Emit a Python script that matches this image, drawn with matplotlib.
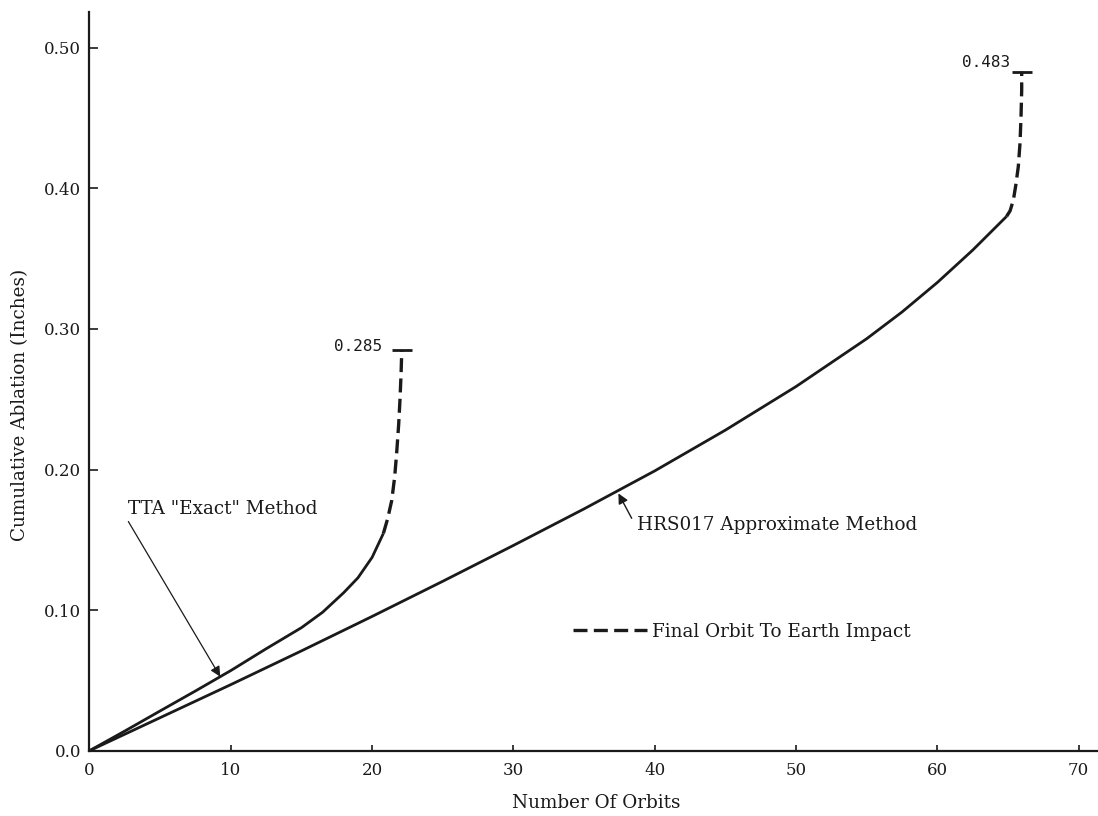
import matplotlib
matplotlib.use("Agg")
import matplotlib.pyplot as plt
from matplotlib.lines import Line2D

# ---- data ----
tta_x = [0, 2.5, 5, 7.5, 10, 12.5, 15, 16.5, 18, 19, 20, 20.8]
tta_y = [0, 0.0140, 0.0283, 0.0425, 0.0570, 0.0725, 0.0875, 0.0985, 0.1125,
         0.1230, 0.1375, 0.1546]
tta_final_x = [20.8, 21.1, 21.39, 21.6, 21.74, 21.88, 21.97, 22.05, 22.1]
tta_final_y = [0.1546, 0.165, 0.178, 0.195, 0.212, 0.232, 0.249, 0.268, 0.285]

hrs_x = [0, 5, 10, 15, 20, 25, 30, 35, 40, 45, 50, 55, 57.5, 60, 62.5, 64.9]
hrs_y = [0, 0.0235, 0.047, 0.071, 0.0955, 0.1205, 0.146, 0.172, 0.199, 0.228,
         0.259, 0.293, 0.312, 0.333, 0.356, 0.380]
hrs_final_x = [64.9, 65.15, 65.38, 65.55, 65.73, 65.85, 65.92, 65.97, 65.97]
hrs_final_y = [0.380, 0.384, 0.3916, 0.402, 0.4154, 0.432, 0.450, 0.470, 0.483]

x_ticks = [0, 10, 20, 30, 40, 50, 60, 70]
y_ticks = [0.0, 0.10, 0.20, 0.30, 0.40, 0.50]
y_tick_labels = ["0.0", "0.10", "0.20", "0.30", "0.40", "0.50"]

tta_label = 'TTA "Exact" Method'
hrs_label = "HRS017 Approximate Method"
final_label = "Final Orbit To Earth Impact"
x_title = "Number Of Orbits"
y_title = "Cumulative Ablation (Inches)"

# ---- figure ----
SERIF = "DejaVu Serif"
MONO = "DejaVu Sans Mono"
FS = 13.2
fig = plt.figure(figsize=(10.98, 8.16), dpi=100)
fig.patch.set_facecolor("white")
ax = fig.add_axes([0.0815, 0.08, 0.9185, 0.905])
ax.set_xlim(0, 71.37)
ax.set_ylim(0, 0.5252)

ink = "#1a1a1a"
solid_lw = 2.0
dash_lw = 2.4
dash_pat = (4.2, 1.9)

ax.plot(tta_x, tta_y, color=ink, lw=solid_lw, solid_capstyle="butt", solid_joinstyle="round")
ax.plot(hrs_x, hrs_y, color=ink, lw=solid_lw, solid_capstyle="butt", solid_joinstyle="round")
ax.plot(tta_final_x, tta_final_y, color=ink, lw=dash_lw, dashes=dash_pat)
ax.plot(hrs_final_x, hrs_final_y, color=ink, lw=dash_lw, dashes=dash_pat)

# caps at the impact values
for fx, fy, off in [(tta_final_x, tta_final_y, (-20, 3)), (hrs_final_x, hrs_final_y, (-12, 9))]:
    ax.plot([fx[-1]], [fy[-1]], marker="_", ms=14.5, mew=2.0, color=ink)
    ax.annotate(f"{fy[-1]:.3f}", xy=(fx[-1], fy[-1]), xytext=off,
                textcoords="offset pixels", ha="right", va="center",
                fontsize=11.5, family=MONO, color=ink)

# spines & ticks
for s in ["top", "right"]:
    ax.spines[s].set_visible(False)
for s in ["left", "bottom"]:
    ax.spines[s].set_linewidth(1.6)
    ax.spines[s].set_color(ink)
ax.set_xticks(x_ticks)
ax.set_xticklabels([str(t) for t in x_ticks], family=SERIF, fontsize=12)
ax.set_yticks(y_ticks)
ax.set_yticklabels(y_tick_labels, family=SERIF, fontsize=12)
ax.tick_params(axis="x", direction="in", length=4.5, width=1.2, pad=8, colors=ink)
ax.tick_params(axis="y", direction="in", length=6.5, width=1.2, pad=6, colors=ink)

# annotations
ax.text(2.75, 0.1716, tta_label, family=SERIF, fontsize=FS, ha="left", va="center", color=ink)
ax.annotate("", xy=(9.25, 0.0527), xytext=(2.75, 0.163),
            arrowprops=dict(arrowstyle="-|>", color=ink, lw=0.9,
                            mutation_scale=15, shrinkA=0, shrinkB=0))
ax.text(38.73, 0.1605, hrs_label, family=SERIF, fontsize=FS, ha="left", va="center", color=ink)
ax.annotate("", xy=(37.43, 0.183), xytext=(38.37, 0.1653),
            arrowprops=dict(arrowstyle="-|>", color=ink, lw=1.0,
                            mutation_scale=15, shrinkA=0, shrinkB=0))

handle = Line2D([], [], color=ink, lw=dash_lw, dashes=dash_pat)
leg = ax.legend([handle], [final_label], loc="center left",
                bbox_to_anchor=(0.4797, 0.161), frameon=False,
                borderpad=0, borderaxespad=0, handlelength=4.0,
                handletextpad=0.3, prop={"family": SERIF, "size": FS})
for t in leg.get_texts():
    t.set_color(ink)

fig.text(596.7 / 1098, 1 - 803 / 816, x_title, family=SERIF, fontsize=FS,
         ha="center", va="center", color=ink)
fig.text(20 / 1098, 1 - 405 / 816, y_title, family=SERIF, fontsize=FS,
         ha="center", va="center", rotation=90, color=ink)

fig.savefig("out.png", dpi=100, facecolor="white")
